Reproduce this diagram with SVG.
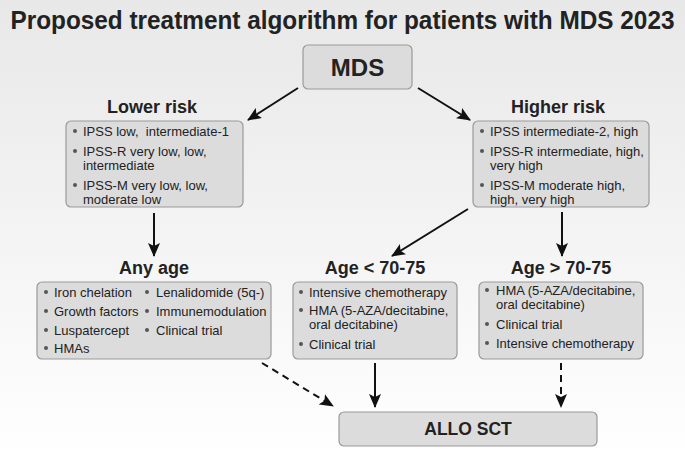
<svg xmlns="http://www.w3.org/2000/svg" width="685" height="463" viewBox="0 0 685 463">
<defs>
<linearGradient id="bg" x1="0" y1="0" x2="0" y2="1">
<stop offset="0" stop-color="#e8e8e8"/>
<stop offset="1" stop-color="#ffffff"/>
</linearGradient>
<marker id="ah" markerUnits="userSpaceOnUse" markerWidth="14" markerHeight="12" viewBox="0 0 14 12" refX="13" refY="6" orient="auto">
<path d="M0,0 L14,6 L0,12 L3,6 z" fill="#111"/>
</marker>
</defs>
<style>
.box{fill:#dcdcdc;stroke:#9a9a9a;stroke-width:1.2}
.t{font-family:"Liberation Sans",Arial,sans-serif;font-size:13px;fill:#222}
.h{font-family:"Liberation Sans",Arial,sans-serif;font-size:18px;font-weight:bold;fill:#222;text-anchor:middle}
.b{fill:#555}
.c{stroke:#111;stroke-width:2;fill:none;marker-end:url(#ah)}
.d{stroke-dasharray:7 5}
</style>
<rect x="0" y="0" width="685" height="463" fill="url(#bg)"/>
<text transform="scale(1,1.18)" x="342.5" y="24.6" font-family="'Liberation Sans',Arial,sans-serif" font-size="22" font-weight="bold" fill="#222" text-anchor="middle" textLength="664" lengthAdjust="spacingAndGlyphs">Proposed treatment algorithm for patients with MDS 2023</text>

<g id="connectors">
<line class="c" x1="298" y1="88" x2="248" y2="120"/>
<line class="c" x1="418" y1="88" x2="470" y2="120"/>
<line class="c" x1="154" y1="213" x2="154" y2="256"/>
<line class="c" x1="468" y1="209" x2="392" y2="256"/>
<line class="c" x1="562" y1="212" x2="562" y2="256"/>
<line class="c d" x1="262" y1="363" x2="333" y2="406"/>
<line class="c" x1="375" y1="363" x2="375" y2="407"/>
<line class="c d" x1="561" y1="363" x2="561" y2="407"/>
</g>

<g id="mds">
<rect class="box" x="303" y="45" width="109" height="44" rx="5"/>
<text x="357.5" y="76" font-family="'Liberation Sans',Arial,sans-serif" font-size="24" font-weight="bold" fill="#222" text-anchor="middle">MDS</text>
</g>

<g id="lower-risk">
<text class="h" x="152" y="113">Lower risk</text>
<rect class="box" x="66" y="121" width="177" height="86" rx="5"/>
<circle class="b" cx="75" cy="131" r="2"/>
<text class="t" x="83" y="136" xml:space="preserve">IPSS low,  intermediate-1</text>
<circle class="b" cx="75" cy="151" r="2"/>
<text class="t" x="83" y="156">IPSS-R very low, low,</text>
<text class="t" x="83" y="170">intermediate</text>
<circle class="b" cx="75" cy="185" r="2"/>
<text class="t" x="83" y="190">IPSS-M very low, low,</text>
<text class="t" x="83" y="204">moderate low</text>
</g>

<g id="higher-risk">
<text class="h" x="558" y="113">Higher risk</text>
<rect class="box" x="473" y="121" width="176" height="86" rx="5"/>
<circle class="b" cx="482" cy="131" r="2"/>
<text class="t" x="490" y="136">IPSS intermediate-2, high</text>
<circle class="b" cx="482" cy="151" r="2"/>
<text class="t" x="490" y="156">IPSS-R intermediate, high,</text>
<text class="t" x="490" y="170">very high</text>
<circle class="b" cx="482" cy="185" r="2"/>
<text class="t" x="490" y="190">IPSS-M moderate high,</text>
<text class="t" x="490" y="204">high, very high</text>
</g>

<g id="any-age">
<text class="h" x="154" y="274">Any age</text>
<rect class="box" x="37" y="282" width="234" height="77" rx="5"/>
<circle class="b" cx="46" cy="292" r="2"/>
<text class="t" x="54" y="297">Iron chelation</text>
<circle class="b" cx="46" cy="311" r="2"/>
<text class="t" x="54" y="316">Growth factors</text>
<circle class="b" cx="46" cy="330" r="2"/>
<text class="t" x="54" y="335">Luspatercept</text>
<circle class="b" cx="46" cy="348" r="2"/>
<text class="t" x="54" y="353">HMAs</text>
<circle class="b" cx="147" cy="292" r="2"/>
<text class="t" x="156" y="297">Lenalidomide (5q-)</text>
<circle class="b" cx="147" cy="311" r="2"/>
<text class="t" x="156" y="316">Immunemodulation</text>
<circle class="b" cx="147" cy="330" r="2"/>
<text class="t" x="156" y="335">Clinical trial</text>
</g>

<g id="age-under">
<text class="h" x="375" y="274">Age &lt; 70-75</text>
<rect class="box" x="293" y="282" width="164" height="77" rx="5"/>
<circle class="b" cx="301" cy="292" r="2"/>
<text class="t" x="309" y="297">Intensive chemotherapy</text>
<circle class="b" cx="301" cy="310" r="2"/>
<text class="t" x="309" y="315">HMA (5-AZA/decitabine,</text>
<text class="t" x="309" y="329">oral decitabine)</text>
<circle class="b" cx="301" cy="344" r="2"/>
<text class="t" x="309" y="349">Clinical trial</text>
</g>

<g id="age-over">
<text class="h" x="561" y="274">Age &gt; 70-75</text>
<rect class="box" x="479" y="282" width="164" height="77" rx="5"/>
<circle class="b" cx="487" cy="290" r="2"/>
<text class="t" x="496" y="295">HMA (5-AZA/decitabine,</text>
<text class="t" x="496" y="309">oral decitabine)</text>
<circle class="b" cx="487" cy="324" r="2"/>
<text class="t" x="496" y="329">Clinical trial</text>
<circle class="b" cx="487" cy="343" r="2"/>
<text class="t" x="496" y="348">Intensive chemotherapy</text>
</g>

<g id="allo-sct">
<rect class="box" x="339" y="412" width="258" height="34" rx="5"/>
<text x="468" y="435" font-family="'Liberation Sans',Arial,sans-serif" font-size="17.5" font-weight="bold" fill="#222" text-anchor="middle">ALLO SCT</text>
</g>
</svg>
